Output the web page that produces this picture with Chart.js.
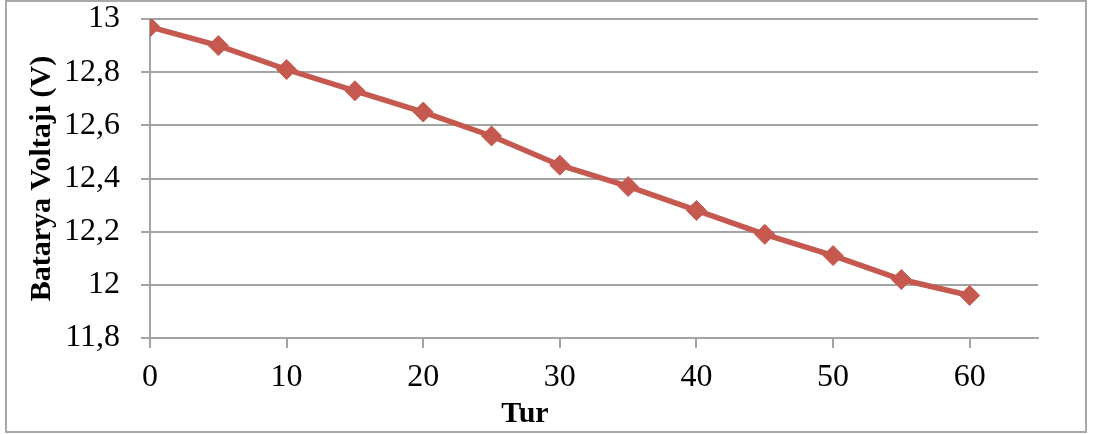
<!DOCTYPE html>
<html>
<head>
<meta charset="utf-8">
<script src="https://cdn.jsdelivr.net/npm/chart.js@4/dist/chart.umd.min.js"></script>
<style>
  html, body { margin: 0; padding: 0; background: #ffffff; }
  #wrap { width: 1093px; height: 434px; position: relative; }
</style>
</head>
<body>
<div id="wrap"><canvas id="c" width="1093" height="434"></canvas></div>
<script>
const turValues = [0, 5, 10, 15, 20, 25, 30, 35, 40, 45, 50, 55, 60];
const voltageValues = [12.97, 12.90, 12.81, 12.73, 12.65, 12.56, 12.45, 12.37, 12.28, 12.19, 12.11, 12.02, 11.96];
const yTickLabels = ['11,8', '12', '12,2', '12,4', '12,6', '12,8', '13'];
const xTickLabels = ['0', '10', '20', '30', '40', '50', '60'];
const yTitle = 'Batarya Voltajı (V)';
const xTitle = 'Tur';

const points = turValues.map((t, i) => ({ x: t, y: voltageValues[i] }));
const gridColor = '#a3a3a3';
const lineColor = '#c5594f';

const framePlugin = {
  id: 'frame',
  beforeDraw(chart) {
    const ctx = chart.ctx;
    ctx.save();
    ctx.fillStyle = '#ffffff';
    ctx.fillRect(0, 0, chart.width, chart.height);
    ctx.restore();
  },
  afterDraw(chart) {
    const ctx = chart.ctx;
    ctx.save();
    ctx.strokeStyle = '#a8a8a8';
    ctx.lineWidth = 2;
    ctx.strokeRect(6, 1, 1080, 431);
    ctx.fillStyle = '#000000';
    ctx.font = 'bold 30px "Liberation Serif"';
    ctx.textAlign = 'center';
    ctx.textBaseline = 'alphabetic';
    ctx.fillText(xTitle, 525, 422);
    ctx.restore();
  }
};

new Chart(document.getElementById('c'), {
  type: 'scatter',
  data: {
    datasets: [{
      data: points,
      showLine: true,
      borderColor: lineColor,
      backgroundColor: lineColor,
      borderWidth: 5.5,
      tension: 0,
      pointStyle: 'rectRot',
      pointRadius: 10,
      pointBorderWidth: 1,
      pointBorderColor: lineColor,
      pointBackgroundColor: lineColor,
      pointHoverRadius: 10
    }]
  },
  options: {
    responsive: false,
    animation: false,
    devicePixelRatio: 1,
    layout: { padding: { top: 0, right: 55, left: 0, bottom: 0 } },
    plugins: { legend: { display: false }, tooltip: { enabled: false } },
    scales: {
      x: {
        type: 'linear',
        min: 0,
        max: 65,
        afterBuildTicks(scale) {
          scale.ticks = scale.ticks.filter(t => t.value % 10 === 0 && t.value <= 60);
        },
        afterFit(scale) { scale.height = 96; },
        ticks: {
          stepSize: 10,
          padding: 10,
          color: '#000000',
          font: { family: '"Liberation Serif"', size: 32 },
          maxRotation: 0,
          callback: (v, i) => xTickLabels[i]
        },
        grid: { drawOnChartArea: false, drawTicks: true, tickLength: 10, color: gridColor, lineWidth: 2 },
        border: { display: true, color: gridColor, width: 2 }
      },
      y: {
        type: 'linear',
        min: 11.8,
        max: 13,
        afterFit(scale) {
          scale.width = 150;
          scale.paddingTop = 19;
        },
        ticks: {
          stepSize: 0.2,
          padding: 21,
          color: '#000000',
          font: { family: '"Liberation Serif"', size: 32 },
          callback: (v, i) => yTickLabels[i]
        },
        title: {
          display: true,
          text: yTitle,
          color: '#000000',
          font: { family: '"Liberation Serif"', size: 30, weight: 'bold' },
          padding: { top: 24, bottom: 0 }
        },
        grid: { drawTicks: true, tickLength: 9, color: gridColor, lineWidth: 2 },
        border: { display: true, color: gridColor, width: 2 }
      }
    }
  },
  plugins: [framePlugin]
});
</script>
</body>
</html>
